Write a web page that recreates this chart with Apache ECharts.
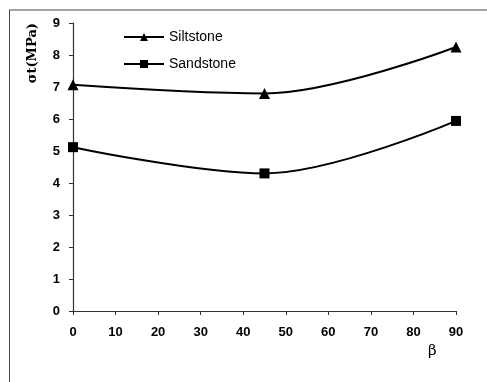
<!DOCTYPE html>
<html><head><meta charset="utf-8">
<script src="https://cdn.jsdelivr.net/npm/echarts@6/dist/echarts.min.js"></script>
<style>html,body{margin:0;padding:0;background:#fff}#c{width:487px;height:382px}</style>
</head><body><div id="c"></div>
<script>
const beta = [0, 45, 90];
const siltstone = [7.07, 6.8, 8.25];
const sandstone = [5.12, 4.3, 5.94];
const seriesNames = ['Siltstone', 'Sandstone'];

const chart = echarts.init(document.getElementById('c'));
const font = 'Liberation Sans, Arial, sans-serif';
chart.setOption({
  animation: false,
  backgroundColor: '#fff',
  grid: {left: 73, right: 31, top: 23, bottom: 71},
  legend: {
    orient: 'vertical', left: 118, top: 25, itemGap: 13,
    itemWidth: 40, itemHeight: 10,
    textStyle: {fontFamily: font, fontSize: 14, color: '#000'},
    data: seriesNames
  },
  xAxis: {
    type: 'value', min: 0, max: 90, interval: 10,
    name: 'β', nameLocation: 'end', nameGap: -28,
    nameTextStyle: {fontFamily: 'DejaVu Serif, serif', fontSize: 15, color: '#000', align: 'left', verticalAlign: 'top', padding: [33, 0, 0, 0]},
    axisLine: {lineStyle: {color: '#333', width: 1.2}},
    axisTick: {length: 4, lineStyle: {color: '#333'}},
    axisLabel: {fontFamily: font, fontWeight: 'bold', fontSize: 13, color: '#000', margin: 15},
    splitLine: {show: false}
  },
  yAxis: {
    type: 'value', min: 0, max: 9, interval: 1,
    name: 'σt(MPa)', nameLocation: 'end', nameRotate: 90, nameGap: 0,
    nameTextStyle: {fontFamily: 'DejaVu Serif, serif', fontWeight: 'bold', fontSize: 13, color: '#000', align: 'right', verticalAlign: 'bottom', padding: [0, 0, 34, 0]},
    axisLine: {show: true, lineStyle: {color: '#333', width: 1.2}},
    axisTick: {show: true, length: 4, lineStyle: {color: '#333'}},
    axisLabel: {fontFamily: font, fontWeight: 'bold', fontSize: 13, color: '#000', margin: 13},
    splitLine: {show: false}
  },
  series: [
    {name: seriesNames[0], type: 'line', smooth: 0.35, symbol: 'triangle', symbolSize: 11,
     itemStyle: {color: '#000'}, lineStyle: {color: '#000', width: 2},
     data: beta.map((b, i) => [b, siltstone[i]])},
    {name: seriesNames[1], type: 'line', smooth: 0.35, symbol: 'rect', symbolSize: 10,
     itemStyle: {color: '#000'}, lineStyle: {color: '#000', width: 2},
     data: beta.map((b, i) => [b, sandstone[i]])}
  ],
  graphic: [
    {type: 'line', shape: {x1: 9, y1: 10, x2: 487, y2: 10}, style: {stroke: '#444', lineWidth: 1}},
    {type: 'line', shape: {x1: 9.5, y1: 10, x2: 9.5, y2: 382}, style: {stroke: '#444', lineWidth: 1}}
  ]
});
</script></body></html>
